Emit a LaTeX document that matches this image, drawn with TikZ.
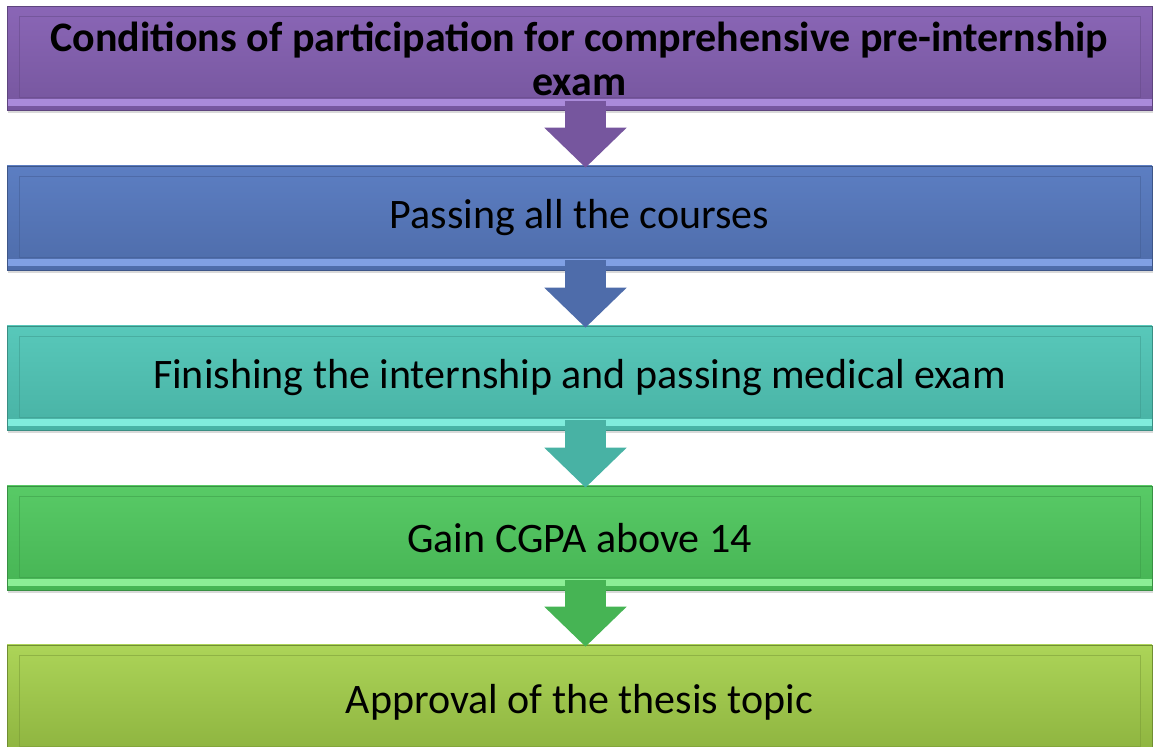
\documentclass[tikz,border=0pt]{standalone}
\usepackage{fontspec}
\setmainfont{Carlito}
\usetikzlibrary{arrows.meta,positioning,shadows}
\definecolor{purpA}{RGB}{138,102,182}
\definecolor{purpB}{RGB}{118,86,158}
\definecolor{purpL}{RGB}{170,138,218}
\definecolor{blueA}{RGB}{92,126,194}
\definecolor{blueB}{RGB}{78,108,170}
\definecolor{blueL}{RGB}{128,160,228}
\definecolor{tealA}{RGB}{88,200,186}
\definecolor{tealB}{RGB}{72,178,164}
\definecolor{tealL}{RGB}{128,236,220}
\definecolor{grnA}{RGB}{88,202,102}
\definecolor{grnB}{RGB}{70,180,84}
\definecolor{grnL}{RGB}{140,238,150}
\definecolor{limeA}{RGB}{172,212,88}
\definecolor{limeB}{RGB}{140,178,62}
\definecolor{limeL}{RGB}{214,244,130}
\tikzset{
	stepbox/.style={rectangle,minimum width=1145pt,minimum height=104pt,inner sep=0pt,
		top color=#1A,bottom color=#1B,draw=#1B!80!black,line width=0.6pt,
		drop shadow={shadow xshift=1pt,shadow yshift=-3pt,opacity=0.3},
		font=\fontsize{42}{44}\selectfont,text=black,align=center,
		path picture={
			\fill[#1L] ([yshift=4pt]path picture bounding box.south west) rectangle ([yshift=11pt]path picture bounding box.south east);
			\draw[#1B!85!black,opacity=0.5] ([shift={(12pt,13pt)}]path picture bounding box.south west) rectangle ([shift={(-12pt,-10pt)}]path picture bounding box.north east);
		}},
	flow/.style={line width=41pt,draw=#1,-{Triangle[width=80pt,length=40pt]}},
	titletext/.style={font=\fontsize{42}{44}\selectfont\bfseries}}

\begin{document}
\begin{tikzpicture}[x=1pt,y=1pt]
	\useasboundingbox (0,0) rectangle (1154,747);
	\node (cond) at (579.5,688.5) [stepbox=purp,titletext] {Conditions of participation for comprehensive pre-internship\\exam};
	\node (courses) at (579.5,529) [stepbox=blue] {Passing all the courses};
	\node (intern) at (579.5,369) [stepbox=teal] {Finishing the internship and passing medical exam};
	\node (cgpa) at (579.5,209) [stepbox=grn] {Gain CGPA above 14};
	\node (thesis) at (579.5,45) [stepbox=lime,minimum height=114pt] {Approval of the thesis topic};
	% arrows between steps
	\draw [flow=purpB] ([xshift=6pt,yshift=10pt]cond.south) -- ([xshift=6pt,yshift=-2pt]courses.north);
	\draw [flow=blueB] ([xshift=6pt,yshift=10pt]courses.south) -- ([xshift=6pt,yshift=-2pt]intern.north);
	\draw [flow=tealB] ([xshift=6pt,yshift=10pt]intern.south) -- ([xshift=6pt,yshift=-2pt]cgpa.north);
	\draw [flow=grnB] ([xshift=6pt,yshift=10pt]cgpa.south) -- ([xshift=6pt,yshift=-2pt]thesis.north);
\end{tikzpicture}
\end{document}
